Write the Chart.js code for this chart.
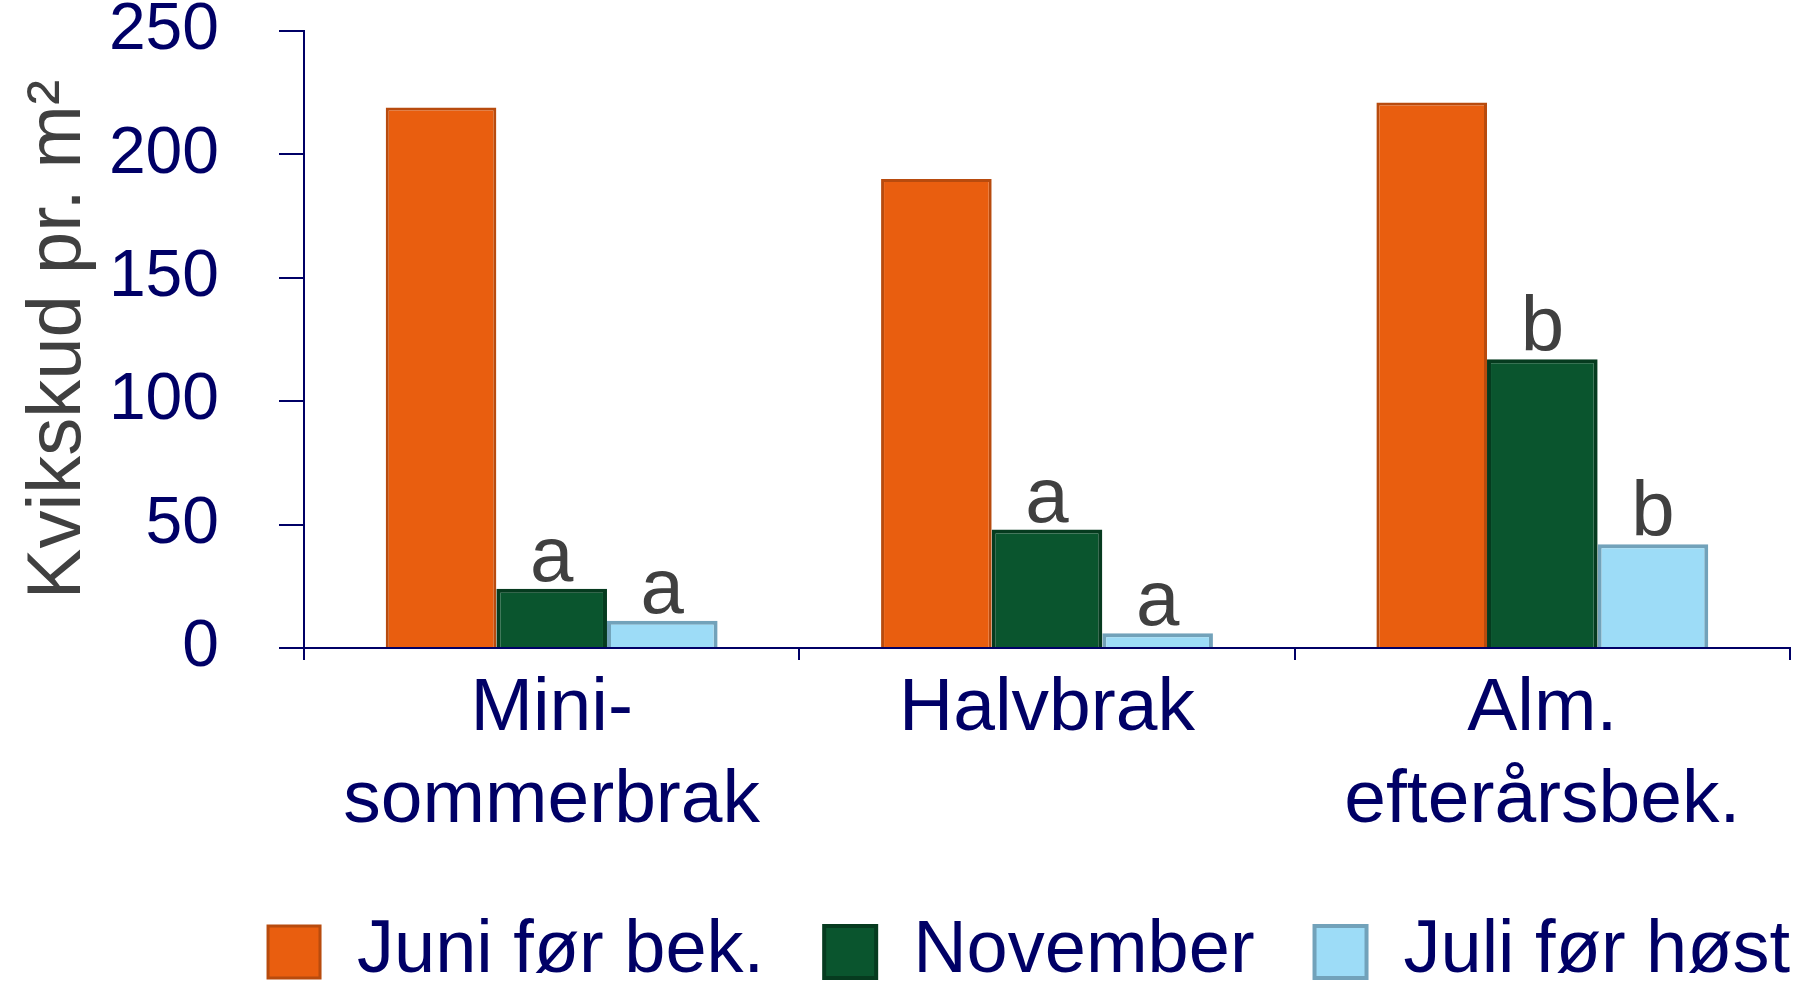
<!DOCTYPE html>
<html>
<head>
<meta charset="utf-8">
<script src="https://cdn.jsdelivr.net/npm/chart.js@4.4.1/dist/chart.umd.min.js"></script>
<style>
  html, body { margin: 0; padding: 0; background: #fff; }
  #wrap { width: 1799px; height: 984px; }
</style>
</head>
<body>
<div id="wrap"><canvas id="myChart" width="1799" height="984"></canvas></div>
<script>
const categories = [["Mini-", "sommerbrak"], "Halvbrak", ["Alm.", "efterårsbek."]];
const seriesNames = ["Juni før bek.", "November", "Juli før høst"];
const juni = [219, 190, 221];
const november = [24, 48, 117];
const juli = [11, 6, 42];
const novemberLetters = ["a", "a", "b"];
const juliLetters = ["a", "a", "b"];
const yTicks = [0, 50, 100, 150, 200, 250];

const navy = "#000066";
const font = "Liberation Sans, Arial, sans-serif";

// letters over the bars
const letterPlugin = {
  id: "letters",
  afterDatasetsDraw(chart) {
    const ctx = chart.ctx;
    const sets = [[1, novemberLetters], [2, juliLetters]];
    ctx.save();
    ctx.fillStyle = "#404040";
    ctx.font = "78px " + font;
    ctx.textAlign = "center";
    ctx.textBaseline = "alphabetic";
    sets.forEach(([idx, letters]) => {
      const meta = chart.getDatasetMeta(idx);
      meta.data.forEach((bar, i) => {
        ctx.fillText(letters[i], bar.x, bar.y - 8);
      });
    });
    ctx.restore();
  }
};

// let the legend row end where the x axis ends
const legendEnd = {
  id: "legendEnd",
  afterLayout(chart) {
    const lg = chart.legend;
    lg.right = chart.chartArea.right + lg.options.labels.padding;
  }
};

const ctx = document.getElementById("myChart");
new Chart(ctx, {
  type: "bar",
  data: {
    labels: categories,
    datasets: [
      {
        label: seriesNames[0],
        data: juni,
        backgroundColor: "#E95E0F",
        borderColor: "#B84B0E",
        borderWidth: 3,
        categoryPercentage: 0.67,
        barPercentage: 1.0,
      },
      {
        label: seriesNames[1],
        data: november,
        backgroundColor: "#0A552E",
        borderColor: "#063B1F",
        borderWidth: 4,
        categoryPercentage: 0.67,
        barPercentage: 1.0,
      },
      {
        label: seriesNames[2],
        data: juli,
        backgroundColor: "#9DDCF7",
        borderColor: "#72A2BA",
        borderWidth: 4,
        categoryPercentage: 0.67,
        barPercentage: 1.0,
      },
    ],
  },
  options: {
    responsive: false,
    animation: false,
    layout: { padding: { top: 0, right: 9, bottom: 0, left: 13 } },
    plugins: {
      legend: {
        position: "bottom",
        align: "end",
        maxHeight: 129,
        labels: {
          color: navy,
          font: { family: font, size: 74 },
          boxWidth: 52,
          boxHeight: 52,
          padding: 60,
        },
      },
      tooltip: { enabled: false },
    },
    scales: {
      x: {
        afterFit(scale) {
          scale.height = 207;
        },
        grid: {
          display: true,
          drawOnChartArea: false,
          drawTicks: true,
          tickLength: 12,
          color: navy,
          lineWidth: 2,
          offset: true,
        },
        border: { display: true, color: navy, width: 2 },
        ticks: {
          color: navy,
          font: { family: font, size: 75, lineHeight: 1.227 },
          padding: 3,
          maxRotation: 0,
          autoSkip: false,
        },
      },
      y: {
        min: 0,
        max: 250,
        afterBuildTicks(scale) {
          scale.ticks = yTicks.map(v => ({ value: v }));
        },
        afterFit(scale) {
          scale.width = 291;
          scale.paddingTop = 31;
          scale.paddingBottom = 31;
        },
        grid: {
          display: true,
          drawOnChartArea: false,
          drawTicks: true,
          tickLength: 25,
          color: navy,
          lineWidth: 2,
        },
        border: { display: true, color: navy, width: 2 },
        ticks: {
          color: navy,
          font: { family: font, size: 66 },
          padding: 60,
        },
        title: {
          display: true,
          text: "Kvikskud pr. m²",
          color: "#404040",
          font: { family: font, size: 76 },
          padding: { top: 0, bottom: 10 },
        },
      },
    },
  },
  plugins: [letterPlugin, legendEnd],
});
</script>
</body>
</html>
